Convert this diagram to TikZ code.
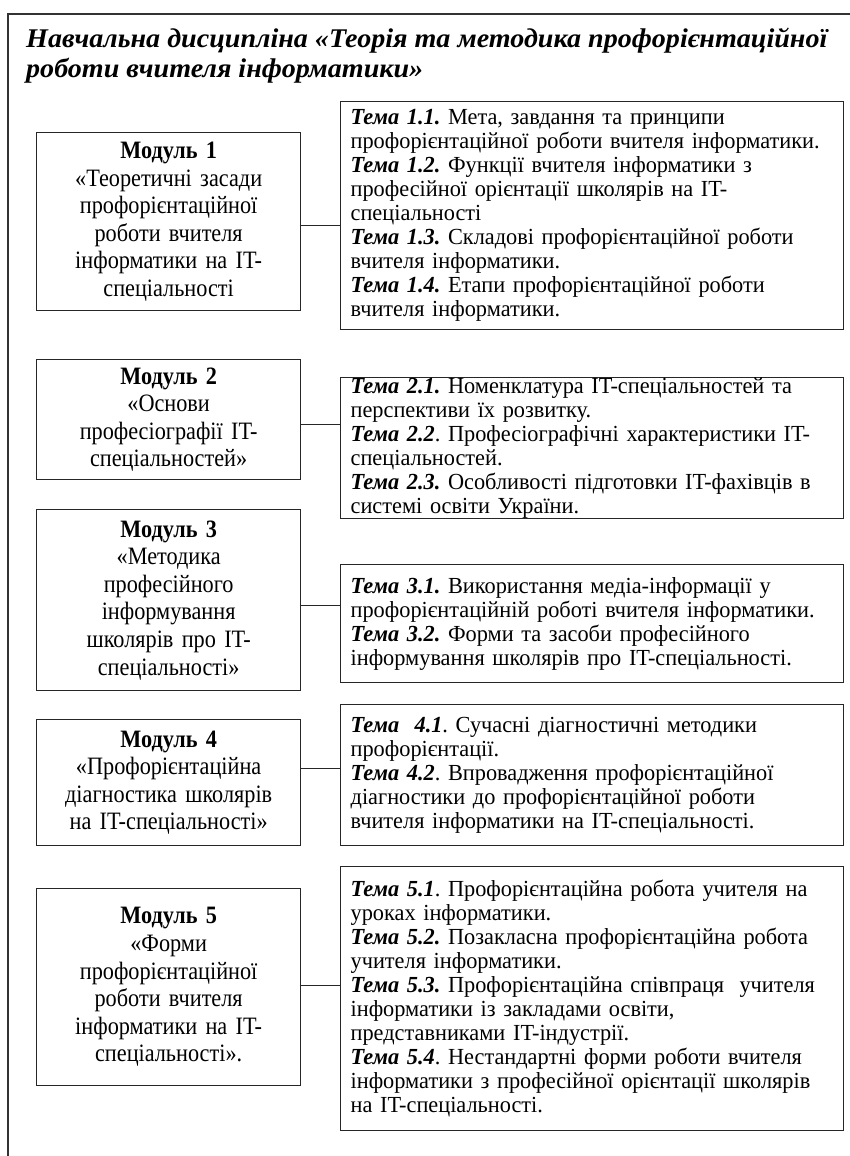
\documentclass[tikz,border=0pt]{standalone}
\usepackage{fontspec}
\setmainfont{Liberation Serif}
\newfontfamily\modfont{Liberation Serif}[FakeStretch=0.89]
\newfontfamily\temafont{Liberation Serif}[FakeStretch=0.97]
\newfontfamily\ttlfont{Liberation Serif}[FakeStretch=1.04]
\begin{document}
\frenchspacing
\begin{tikzpicture}[x=1pt,y=-1pt,
  frameline/.style={line width=1.3pt,draw=black!80},
  modbox/.style={draw=black!85,line width=1.3pt,anchor=north west,minimum width=264pt,text width=260pt,align=center,inner sep=0pt,font=\modfont\fontsize{25}{27.6}\selectfont},
  temabox/.style={draw=black!85,line width=1.3pt,anchor=north west,minimum width=503pt,text width=483pt,align=left,inner xsep=10pt,inner ysep=0pt,font=\temafont\fontsize{23}{24}\selectfont},
  link/.style={line width=1.3pt,draw=black!85},
  titletext/.style={anchor=north west,align=left,inner sep=0pt,font=\ttlfont\fontsize{27}{30}\selectfont\bfseries\itshape}
]
\newcommand{\tm}[1]{\textbf{\textit{#1}}}
\useasboundingbox (0,0) rectangle (850,1156);
\fill[white] (0,0) rectangle (850,1156);
\coordinate (fbl) at (8,1156);
\coordinate (ftl) at (8,14);
\coordinate (ftr) at (850,14);
\draw[frameline] (fbl) -- (ftl) -- (ftr);

\node[titletext] (title) at (26,28) {Навчальна дисципліна «Теорія та методика профорієнтаційної\\роботи вчителя інформатики»};

\node[modbox,minimum height=178pt] (m1) at (36,132) {\textbf{Модуль 1}\\«Теоретичні засади\\профорієнтаційної\\роботи вчителя\\інформатики на IT-\\спеціальності};
\node[temabox,minimum height=228pt] (t1) at (340,101) {\tm{Тема 1.1.} Мета, завдання та принципи\\профорієнтаційної роботи вчителя інформатики.\\\tm{Тема 1.2.} Функції вчителя інформатики з\\професійної орієнтації школярів на IT-\\спеціальності\\\tm{Тема 1.3.} Складові профорієнтаційної роботи\\вчителя інформатики.\\\tm{Тема 1.4.} Етапи профорієнтаційної роботи\\вчителя інформатики.};

\node[modbox,minimum height=120pt] (m2) at (36,359) {\textbf{Модуль 2}\\«Основи\\професіографії IT-\\спеціальностей»};
\node[temabox,minimum height=126pt] (t2) at (340,377) {\tm{Тема 2.1.} Номенклатура IT-спеціальностей та\\перспективи їх розвитку.\\\tm{Тема 2.2}. Професіографічні характеристики IT-\\спеціальностей.\\\tm{Тема 2.3.} Особливості підготовки IT-фахівців в\\системі освіти України.};

\node[modbox,minimum height=181pt] (m3) at (36,509) {\textbf{Модуль 3}\\«Методика\\професійного\\інформування\\школярів про IT-\\спеціальності»};
\node[temabox,minimum height=118pt] (t3) at (340,564) {\tm{Тема 3.1.} Використання медіа-інформації у\\профорієнтаційній роботі вчителя інформатики.\\\tm{Тема 3.2.} Форми та засоби професійного\\інформування школярів про IT-спеціальності.};

\node[modbox,minimum height=126pt] (m4) at (36,719) {\textbf{Модуль 4}\\«Профорієнтаційна\\діагностика школярів\\на IT-спеціальності»};
\node[temabox,minimum height=141pt] (t4) at (340,704) {\tm{Тема\ \ 4.1}. Сучасні діагностичні методики\\профорієнтації.\\\tm{Тема 4.2}. Впровадження профорієнтаційної\\діагностики до профорієнтаційної роботи\\вчителя інформатики на IT-спеціальності.};

\node[modbox,minimum height=197pt] (m5) at (36,888) {\textbf{Модуль 5}\\«Форми\\профорієнтаційної\\роботи вчителя\\інформатики на IT-\\спеціальності».};
\node[temabox,minimum height=264pt] (t5) at (340,866) {\tm{Тема 5.1}. Профорієнтаційна робота учителя на\\уроках інформатики.\\\tm{Тема 5.2.} Позакласна профорієнтаційна робота\\учителя інформатики.\\\tm{Тема 5.3.} Профорієнтаційна співпраця\ \ учителя\\інформатики із закладами освіти,\\представниками IT-індустрії.\\\tm{Тема 5.4}. Нестандартні форми роботи вчителя\\інформатики з професійної орієнтації школярів\\на IT-спеціальності.};

\coordinate (c1) at ([yshift=-4pt]m1.east);
\coordinate (c2) at ([yshift=-5pt]m2.east);
\coordinate (c3) at ([yshift=-5pt]m3.east);
\coordinate (c4) at ([yshift=14pt]m4.east);
\coordinate (c5) at ([yshift=2pt]m5.east);
\draw[link] (c1) -- (t1.west |- c1);
\draw[link] (c2) -- (t2.west |- c2);
\draw[link] (c3) -- (t3.west |- c3);
\draw[link] (c4) -- (t4.west |- c4);
\draw[link] (c5) -- (t5.west |- c5);
\end{tikzpicture}
\end{document}
